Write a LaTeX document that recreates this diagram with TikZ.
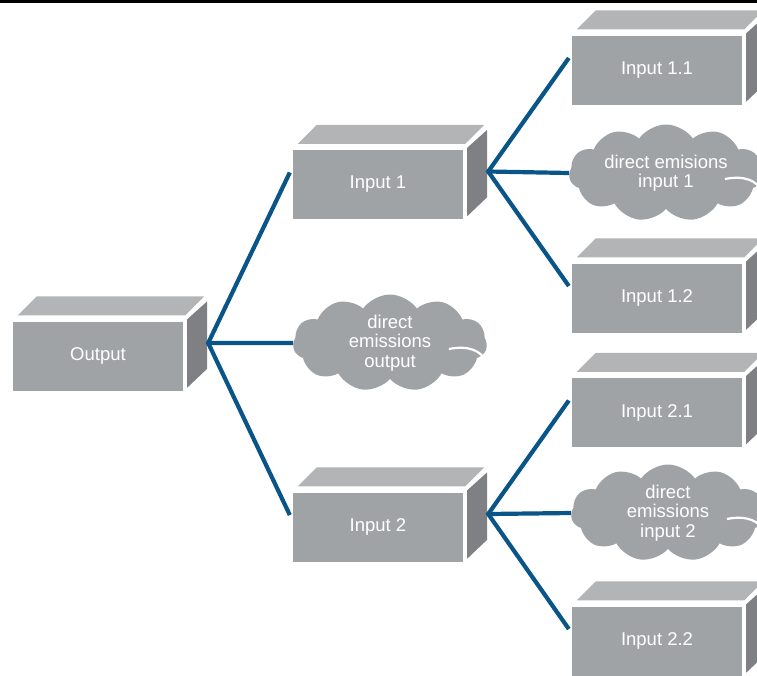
\documentclass[tikz,border=0pt]{standalone}
\usepackage{fontspec}
\setmainfont{Liberation Sans}
\usepackage{tikz}
\usetikzlibrary{shapes.symbols}

\definecolor{frontgray}{HTML}{A0A3A6}
\definecolor{topgray}{HTML}{B3B4B6}
\definecolor{sidegray}{HTML}{7F8083}
\definecolor{linkblue}{HTML}{0A5587}

\begin{document}
\begin{tikzpicture}[x=1pt,y=-1pt,
  block/.style={rectangle,fill=frontgray,minimum width=170pt,minimum height=69pt,
                inner sep=0pt,text=white,font=\fontsize{18.5}{21}\selectfont},
  puff/.style={cloud,cloud puffs=11,cloud puff arc=110,cloud ignores aspect,
               fill=frontgray,minimum width=194pt,minimum height=97pt,inner sep=0pt,
               align=center,text=white,font=\fontsize{18.5}{19.5}\selectfont},
  link/.style={draw=linkblue,line width=4.2pt},
  cut/.style={draw=white,line width=2.2pt}]

\useasboundingbox (0,0) rectangle (757,675);
\clip (0,0) rectangle (757,675);

\draw[line width=3pt] (0,1.5) -- (757,1.5);

\node[block] (out) at (98,356) {Output};
\node[block] (in1) at (378,184.5) {Input 1};
\node[block] (in2) at (378,527) {Input 2};
\node[block] (in11) at (657,70) {Input 1.1};
\node[block] (in12) at (657,298) {Input 1.2};
\node[block] (in21) at (657,412.5) {Input 2.1};
\node[block] (in22) at (657,641) {Input 2.2};

% top and side faces of the blocks
\foreach \b in {out,in1,in2,in11,in12,in21,in22}{
  \fill[topgray] ([shift={(5,-6)}]\b.north west) -- ([shift={(2,-6)}]\b.north east)
    -- ([shift={(21,-25)}]\b.north east) -- ([shift={(24,-25)}]\b.north west) -- cycle;
  \fill[sidegray] ([shift={(4,-2)}]\b.north east) -- ([shift={(24,-20)}]\b.north east)
    -- ([shift={(24,-22)}]\b.south east) -- ([shift={(4,-3)}]\b.south east) -- cycle;
}

\node[puff] (dout) at (390,343) {direct\\emissions\\output};
\node[puff] (din1) at (666,173) {direct emisions\\input 1};
\node[puff] (din2) at (668,513) {direct\\emissions\\input 2};

% white cut lines inside the clouds
\foreach \c in {dout,din1,din2}
  \draw[cut] ([shift={(-38,6)}]\c.east) .. controls +(20,-4) and +(-5,-10)
    .. ([shift={(-1,18)}]\c.east);

\draw[link] ([shift={(-3,-12)}]in1.west) -- ([shift={(25,-13)}]out.east)
  -- ([shift={(-3,-12)}]in2.west);
\draw[link] ([shift={(25,-13)}]out.east) -- (dout.west);

\draw[link] ([shift={(-3,-12)}]in11.west) -- ([shift={(25,-13)}]in1.east)
  -- ([shift={(-3,-12)}]in12.west);
\draw[link] ([shift={(25,-13)}]in1.east) -- (din1.west);

\draw[link] ([shift={(-3,-12)}]in21.west) -- ([shift={(25,-13)}]in2.east)
  -- ([shift={(-3,-12)}]in22.west);
\draw[link] ([shift={(25,-13)}]in2.east) -- (din2.west);
\end{tikzpicture}
\end{document}
